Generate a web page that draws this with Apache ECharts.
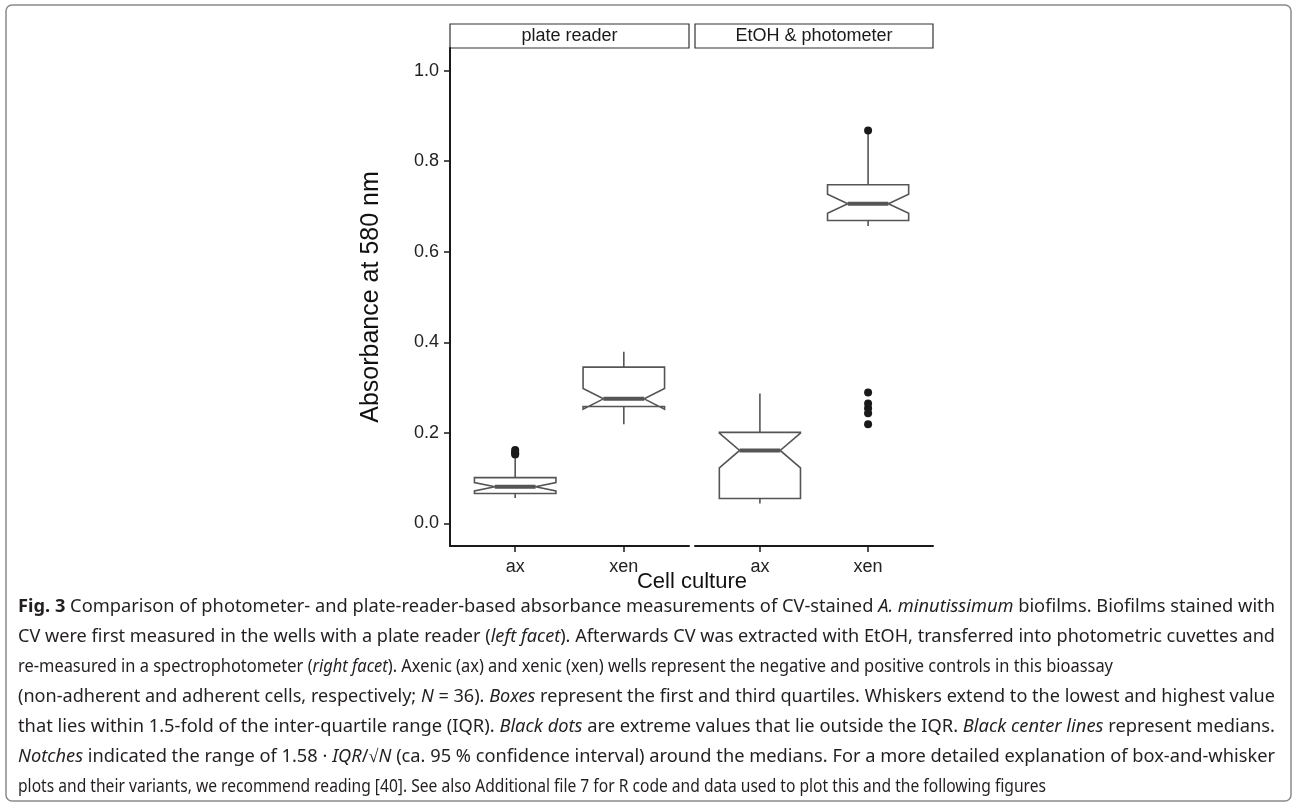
<!DOCTYPE html>
<html>
<head>
<meta charset="utf-8">
<title>Absorbance at 580 nm</title>
<script src="https://cdn.jsdelivr.net/npm/echarts@6/dist/echarts.min.js"></script>
<style>
  html, body { margin: 0; padding: 0; background: #fff; }
  #chart { width: 1292px; height: 807px; }
</style>
</head>
<body>
<div id="chart"></div>
<script>
  // facets and categories
  var facets = ['plate reader', 'EtOH & photometer'];
  var cultures = ['ax', 'xen'];
  var yTicks = [0, 0.2, 0.4, 0.6, 0.8, 1.0];
  var sampleN = 36;

  // [lower whisker, Q1, median, Q3, upper whisker] for ax, xen
  var plateReaderBoxes = [
    [0.056, 0.066, 0.081, 0.101, 0.144],
    [0.219, 0.258, 0.275, 0.345, 0.379]
  ];
  var photometerBoxes = [
    [0.044, 0.055, 0.161, 0.201, 0.287],
    [0.657, 0.669, 0.706, 0.748, 0.862]
  ];
  // outliers for ax, xen
  var plateReaderOutliers = [
    [0.152, 0.155, 0.158, 0.162],
    []
  ];
  var photometerOutliers = [
    [],
    [0.868, 0.289, 0.265, 0.254, 0.243, 0.219]
  ];

  // caption, one entry per printed line: [style, text]
  var captionLines = [
    [['b', 'Fig. 3'], ['', ' Comparison of photometer- and plate-reader-based absorbance measurements of CV-stained '], ['i', 'A. minutissimum'], ['', ' biofilms. Biofilms stained with']],
    [['', 'CV were first measured in the wells with a plate reader ('], ['i', 'left facet'], ['', '). Afterwards CV was extracted with EtOH, transferred into photometric cuvettes and']],
    [['', 're-measured in a spectrophotometer ('], ['i', 'right facet'], ['', '). Axenic (ax) and xenic (xen) wells represent the negative and positive controls in this bioassay']],
    [['', '(non-adherent and adherent cells, respectively; '], ['i', 'N'], ['', ' = 36). '], ['i', 'Boxes'], ['', ' represent the first and third quartiles. Whiskers extend to the lowest and highest value']],
    [['', 'that lies within 1.5-fold of the inter-quartile range (IQR). '], ['i', 'Black dots'], ['', ' are extreme values that lie outside the IQR. '], ['i', 'Black center lines'], ['', ' represent medians.']],
    [['i', 'Notches'], ['', ' indicated the range of 1.58 \u00b7 '], ['i', 'IQR'], ['', '/\u221a'], ['i', 'N'], ['', ' (ca. 95 % confidence interval) around the medians. For a more detailed explanation of box-and-whisker']],
    [['', 'plots and their variants, we recommend reading [40]. See also Additional file 7 for R code and data used to plot this and the following figures']]
  ];
  var captionRight = [1275, 1275, 1113, 1275, 1275, 1275, 1046];

  var axisFont = 'Liberation Sans';
  var captionFont = 'Noto Sans';
  var captionSize = 18;
  var lineColor = '#555';
  var boxWidth = 0.75;
  var notchWidth = 0.5;

  function withNotches(boxes) {
    return boxes.map(function (b, i) {
      var half = 1.58 * (b[3] - b[1]) / Math.sqrt(sampleN);
      return [i + 1, b[0], b[1], b[2], b[3], b[4], b[2] - half, b[2] + half];
    });
  }

  function outlierPoints(outliers) {
    var pts = [];
    outliers.forEach(function (list, i) {
      list.forEach(function (v) { pts.push([i + 1, v]); });
    });
    return pts;
  }

  function renderBox(params, api) {
    var x = api.value(0);
    var halfW = api.size([boxWidth, 0])[0] / 2;
    var cx = api.coord([x, 0])[0];
    function y(idx) { return api.coord([x, api.value(idx)])[1]; }
    var lo = y(1), q1 = y(2), med = y(3), q3 = y(4), hi = y(5), nLo = y(6), nHi = y(7);
    var L = cx - halfW, R = cx + halfW, inset = halfW * notchWidth;
    var stroke = { stroke: lineColor, lineWidth: 1.6, fill: 'none' };
    return {
      type: 'group',
      children: [
        { type: 'line', shape: { x1: cx, y1: q3, x2: cx, y2: hi }, style: stroke },
        { type: 'line', shape: { x1: cx, y1: q1, x2: cx, y2: lo }, style: stroke },
        {
          type: 'polygon',
          shape: { points: [[L, q1], [L, nLo], [L + inset, med], [L, nHi], [L, q3], [R, q3], [R, nHi], [R - inset, med], [R, nLo], [R, q1]] },
          style: { fill: '#fff', stroke: lineColor, lineWidth: 1.6 }
        },
        { type: 'line', shape: { x1: L + inset, y1: med, x2: R - inset, y2: med }, style: { stroke: lineColor, lineWidth: 4 } }
      ]
    };
  }

  // caption text, squeezed to the printed line widths
  var measureCtx = document.createElement('canvas').getContext('2d');
  function cssFont(kind) {
    return (kind === 'i' ? 'italic ' : '') + (kind === 'b' ? 'bold ' : '') + captionSize + 'px "' + captionFont + '"';
  }
  var captionGraphics = captionLines.map(function (segs, i) {
    var width = 0;
    var text = '';
    segs.forEach(function (s) {
      measureCtx.font = cssFont(s[0]);
      width += measureCtx.measureText(s[1]).width;
      text += s[0] ? '{' + s[0] + '|' + s[1] + '}' : s[1];
    });
    return {
      type: 'text',
      x: 18,
      y: 607 + i * 30,
      scaleX: (captionRight[i] - 18) / width,
      style: {
        text: text,
        fill: '#231f20',
        fontSize: captionSize,
        fontFamily: captionFont,
        textVerticalAlign: 'middle',
        rich: {
          b: { fontSize: captionSize, fontFamily: captionFont, fontWeight: 'bold', fill: '#231f20' },
          i: { fontSize: captionSize, fontFamily: captionFont, fontStyle: 'italic', fill: '#231f20' }
        }
      }
    };
  });

  var grids = [
    { left: 450, top: 48, width: 239, height: 498 },
    { left: 695, top: 48, width: 238, height: 498 }
  ];

  var xAxes = grids.map(function (g, f) {
    return {
      type: 'value',
      gridIndex: f,
      min: 0.4,
      max: 2.6,
      splitLine: { show: false },
      axisLine: { show: true, onZero: false, lineStyle: { color: '#1a1a1a', width: 2 } },
      axisTick: { show: true, customValues: [1, 2], length: 6, lineStyle: { color: '#1a1a1a', width: 1.5 } },
      axisLabel: {
        customValues: [1, 2],
        margin: 12,
        fontSize: 18,
        fontFamily: axisFont,
        color: '#222',
        formatter: function (v) { return cultures[Math.round(v) - 1]; }
      }
    };
  });

  var yAxes = [
    {
      type: 'value',
      gridIndex: 0,
      min: -0.05,
      max: 1.05,
      splitLine: { show: false },
      axisLine: { show: true, onZero: false, lineStyle: { color: '#1a1a1a', width: 2 } },
      axisTick: { show: true, customValues: yTicks, length: 6, lineStyle: { color: '#1a1a1a', width: 1.5 } },
      axisLabel: {
        customValues: yTicks,
        margin: 11,
        fontSize: 18,
        fontFamily: axisFont,
        color: '#222',
        formatter: function (v) { return v.toFixed(1); }
      },
      name: 'Absorbance at 580 nm',
      nameLocation: 'middle',
      nameRotate: 90,
      nameGap: 66,
      nameTextStyle: { fontSize: 25, fontFamily: axisFont, color: '#111' }
    },
    { type: 'value', gridIndex: 1, min: -0.05, max: 1.05, show: false }
  ];

  var series = [];
  [[plateReaderBoxes, plateReaderOutliers], [photometerBoxes, photometerOutliers]].forEach(function (pair, f) {
    series.push({
      type: 'custom',
      xAxisIndex: f,
      yAxisIndex: f,
      renderItem: renderBox,
      data: withNotches(pair[0]),
      silent: true
    });
    series.push({
      type: 'scatter',
      xAxisIndex: f,
      yAxisIndex: f,
      symbolSize: 8,
      itemStyle: { color: '#1a1a1a', opacity: 1 },
      data: outlierPoints(pair[1]),
      z: 5,
      silent: true
    });
  });

  var stripGraphics = [];
  grids.forEach(function (g, f) {
    stripGraphics.push({
      type: 'rect',
      shape: { x: g.left, y: 24, width: g.width, height: 24 },
      style: { fill: '#fff', stroke: '#333', lineWidth: 1.2 }
    });
    stripGraphics.push({
      type: 'text',
      x: g.left + g.width / 2,
      y: 36,
      style: { text: facets[f], fontSize: 18, fontFamily: axisFont, fill: '#1a1a1a', textAlign: 'center', textVerticalAlign: 'middle' }
    });
  });

  var chart = echarts.init(document.getElementById('chart'), null, { renderer: 'canvas' });
  chart.setOption({
    backgroundColor: '#fff',
    animation: false,
    grid: grids,
    xAxis: xAxes,
    yAxis: yAxes,
    series: series,
    graphic: [
      {
        type: 'rect',
        shape: { x: 6, y: 5, width: 1285, height: 796, r: 6 },
        style: { fill: 'none', stroke: '#8a8a8a', lineWidth: 1.5 }
      },
      {
        type: 'text',
        x: 692,
        y: 582,
        style: { text: 'Cell culture', fontSize: 22, fontFamily: axisFont, fill: '#111', textAlign: 'center', textVerticalAlign: 'middle' }
      }
    ].concat(stripGraphics, captionGraphics)
  });
</script>
</body>
</html>
